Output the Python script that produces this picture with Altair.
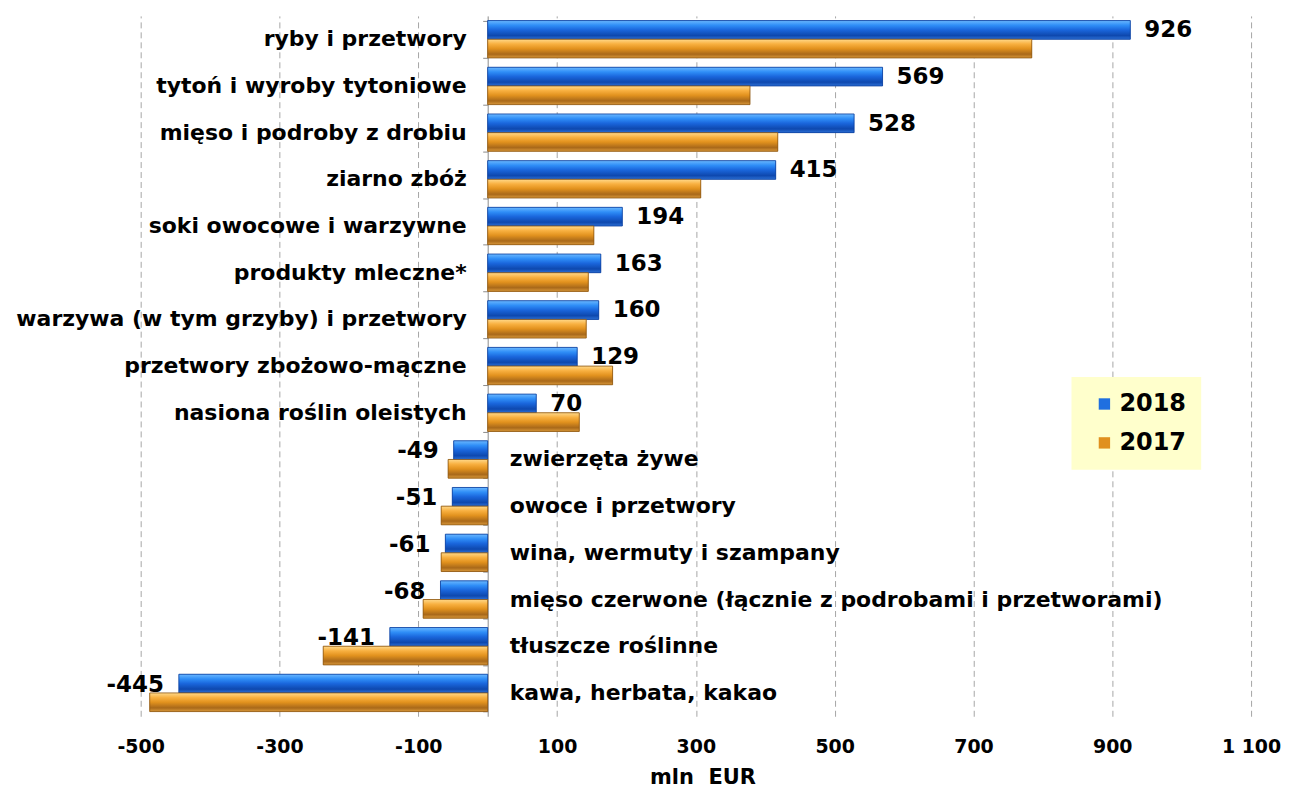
import altair as alt
import pandas as pd

categories = [
    "ryby i przetwory",
    "tytoń i wyroby tytoniowe",
    "mięso i podroby z drobiu",
    "ziarno zbóż",
    "soki owocowe i warzywne",
    "produkty mleczne*",
    "warzywa (w tym grzyby) i przetwory",
    "przetwory zbożowo-mączne",
    "nasiona roślin oleistych",
    "zwierzęta żywe",
    "owoce i przetwory",
    "wina, wermuty i szampany",
    "mięso czerwone (łącznie z podrobami i przetworami)",
    "tłuszcze roślinne",
    "kawa, herbata, kakao",
]
values_2018 = [926, 569, 528, 415, 194, 163, 160, 129, 70, -49, -51, -61, -68, -141, -445]
values_2017 = [784, 378, 418, 307, 153, 145, 142, 180, 132, -57, -67, -67, -93, -237, -487]
years = ["2018", "2017"]
x_ticks = [-500, -300, -100, 100, 300, 500, 700, 900, 1100]

rows = []
for c, a, b in zip(categories, values_2018, values_2017):
    rows.append({"category": c, "year": "2018", "value": a})
    rows.append({"category": c, "year": "2017", "value": b})
long_df = pd.DataFrame(rows)
wide_df = pd.DataFrame({"category": categories, "v2018": values_2018})

W, H = 1113, 702
XMIN, XMAX = -500, 1100
zero_px = (0 - XMIN) / (XMAX - XMIN) * W

FONT = "DejaVu Sans"
BLUE = "#1F6FE0"
ORANGE = "#E0901E"
X_TITLE = "mln\u00a0\u00a0EUR"

xscale = alt.Scale(domain=[XMIN, XMAX], nice=False, zero=False)
xaxis = alt.Axis(
    values=x_ticks,
    labelExpr="abs(datum.value) >= 1000 ? floor(datum.value/1000) + ' ' + format(datum.value % 1000, '03d') : '' + datum.value",
    labelFlush=False,
    grid=True, gridDash=[6, 4], gridColor="#a6a6a6", gridWidth=1,
    domain=False, ticks=False,
    labelFont=FONT, labelFontSize=19, labelFontWeight="bold", labelColor="black",
    labelPadding=21,
    titleFont=FONT, titleFontSize=21, titleFontWeight="bold", titleColor="black",
    titlePadding=10, titleX=563,
)
yscale = alt.Scale(paddingInner=0.2, paddingOuter=0.1)
yaxis = alt.Axis(
    labels=False, title=None, grid=False,
    domainColor="#8c8c8c", tickColor="#8c8c8c", tickSize=5, tickBand="extent",
    offset=-zero_px,
)

def yenc():
    return alt.Y("category:N", sort=categories, scale=yscale, axis=yaxis)

yoff = alt.YOffset("year:N", sort=years, scale=alt.Scale(domain=years))

base_bars = alt.Chart(long_df).mark_bar().encode(
    x=alt.X("value:Q", scale=xscale, axis=xaxis, title=X_TITLE, stack=False),
    y=yenc(),
    yOffset=yoff,
    color=alt.Color(
        "year:N",
        scale=alt.Scale(domain=years, range=[BLUE, ORANGE]),
        legend=alt.Legend(
            title=None, orient="none", legendX=933, legendY=362,
            fillColor="#FFFFCC", padding=15, symbolOffset=6,
            labelFont=FONT, labelFontSize=24, labelFontWeight="bold", labelColor="black",
            symbolType="square", symbolSize=130, symbolStrokeWidth=0,
            rowPadding=15, labelOffset=3,
        ),
    ),
)

blue_grad = {
    "gradient": "linear", "x1": 0, "y1": 0, "x2": 0, "y2": 1,
    "stops": [
        {"offset": 0, "color": "#6BB8FF"},
        {"offset": 0.25, "color": "#2F8EF7"},
        {"offset": 0.5, "color": "#1A66DC"},
        {"offset": 0.8, "color": "#0E48AE"},
        {"offset": 1, "color": "#2C70D6"},
    ],
}
orange_grad = {
    "gradient": "linear", "x1": 0, "y1": 0, "x2": 0, "y2": 1,
    "stops": [
        {"offset": 0, "color": "#FFD98A"},
        {"offset": 0.25, "color": "#F8B040"},
        {"offset": 0.5, "color": "#E2921E"},
        {"offset": 0.8, "color": "#A9691A"},
        {"offset": 1, "color": "#D9983A"},
    ],
}

def grad_layer(year, grad, edge):
    return alt.Chart(long_df).transform_filter(alt.datum.year == year).mark_bar(
        color=grad, stroke=edge, strokeWidth=0.8
    ).encode(
        x=alt.X("value:Q", scale=xscale, title=X_TITLE, stack=False),
        y=yenc(),
        yOffset=yoff,
    )

g2018 = grad_layer("2018", blue_grad, "#0B3E9C")
g2017 = grad_layer("2017", orange_grad, "#8A5410")

text_style = dict(font=FONT, fontWeight="bold", color="black")

cat_pos = alt.Chart(wide_df).transform_filter("datum.v2018 > 0").mark_text(
    align="right", baseline="middle", dx=-21, fontSize=22, **text_style
).encode(x=alt.datum(0), y=yenc(), text="category:N")

cat_neg = alt.Chart(wide_df).transform_filter("datum.v2018 < 0").mark_text(
    align="left", baseline="middle", dx=22, fontSize=22, **text_style
).encode(x=alt.datum(0), y=yenc(), text="category:N")

val_pos = alt.Chart(wide_df).transform_filter("datum.v2018 > 0").transform_calculate(
    lbl="'' + datum.v2018"
).mark_text(
    align="left", baseline="middle", dx=14, dy=-9, fontSize=23, **text_style
).encode(x=alt.X("v2018:Q", scale=xscale, title=X_TITLE), y=yenc(), text="lbl:N")

val_neg = alt.Chart(wide_df).transform_filter("datum.v2018 < 0").transform_calculate(
    lbl="'' + datum.v2018"
).mark_text(
    align="right", baseline="middle", dx=-15, dy=-8, fontSize=23, **text_style
).encode(x=alt.X("v2018:Q", scale=xscale, title=X_TITLE), y=yenc(), text="lbl:N")

chart = alt.layer(base_bars, g2018, g2017, cat_pos, cat_neg, val_pos, val_neg).properties(
    width=W, height=H,
    autosize=alt.AutoSizeParams(type="none"),
    padding={"left": 133, "top": 7, "right": 30, "bottom": 76},
    background="white",
).configure_view(stroke=None)

chart.save("out.html", embed_options={"renderer": "svg", "actions": False})
